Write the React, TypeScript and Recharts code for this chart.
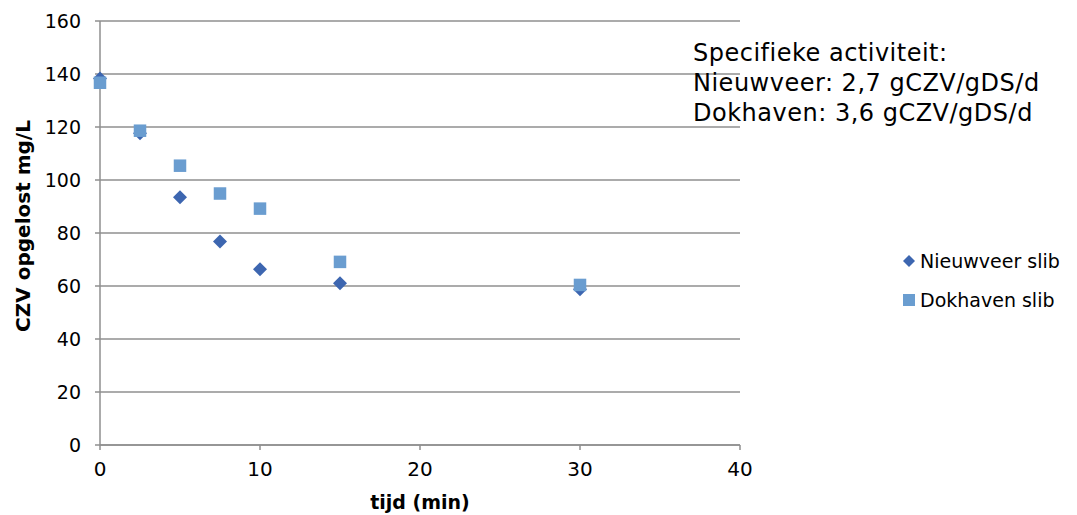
import React from 'react';
import { ScatterChart, Scatter, XAxis, YAxis, CartesianGrid, Legend } from 'recharts';

// tijd in minuten, CZV in mg/L
const nieuwveerTijd = [0, 2.5, 5, 7.5, 10, 15, 30];
const nieuwveerCzv = [138.3, 117.6, 93.5, 76.8, 66.3, 61.0, 58.8];
const dokhavenTijd = [0, 2.5, 5, 7.5, 10, 15, 30];
const dokhavenCzv = [136.7, 118.6, 105.4, 94.9, 89.2, 69.1, 60.4];

const xTicks = [0, 10, 20, 30, 40];
const yTicks = [0, 20, 40, 60, 80, 100, 120, 140, 160];

const seriesNames = ['Nieuwveer slib', 'Dokhaven slib'];
const noteLines = [
    'Specifieke activiteit:',
    'Nieuwveer: 2,7 gCZV/gDS/d',
    'Dokhaven: 3,6 gCZV/gDS/d',
];

const nieuwveer = nieuwveerTijd.map((t, i) => ({ tijd: t, czv: nieuwveerCzv[i] }));
const dokhaven = dokhavenTijd.map((t, i) => ({ tijd: t, czv: dokhavenCzv[i] }));

const DARK_BLUE = '#3d66b0';
const LIGHT_BLUE = '#6a9dd0';
const GRID = '#8f8f8f';
const FONT = '"DejaVu Sans", sans-serif';

const Diamond = (props: any) => {
    const { cx, cy } = props;
    const r = 7;
    return <path d={`M${cx},${cy - r}L${cx + r},${cy}L${cx},${cy + r}L${cx - r},${cy}Z`} fill={DARK_BLUE} />;
};

const Square = (props: any) => {
    const { cx, cy } = props;
    const s = 12.5;
    return <rect x={cx - s / 2} y={cy - s / 2} width={s} height={s} fill={LIGHT_BLUE} />;
};

const renderLegend = () => (
    <div style={{ fontFamily: FONT, fontSize: 19, color: '#000' }}>
        <div style={{ display: 'flex', alignItems: 'center', height: 39 }}>
            <svg width={17} height={14}>
                <path d="M6,1L12,7L6,13L0,7Z" fill={DARK_BLUE} />
            </svg>
            <span>{seriesNames[0]}</span>
        </div>
        <div style={{ display: 'flex', alignItems: 'center', height: 39 }}>
            <svg width={17} height={14}>
                <rect x={0} y={1} width={12} height={12} fill={LIGHT_BLUE} />
            </svg>
            <span>{seriesNames[1]}</span>
        </div>
    </div>
);

const yLabel = (props: any) => {
    const { viewBox } = props;
    const x = viewBox.x + 30;
    const y = viewBox.y + viewBox.height / 2 - 7;
    return (
        <text x={x} y={y} transform={`rotate(-90, ${x}, ${y})`} textAnchor="middle" fontFamily={FONT} fontWeight="bold" fontSize={20} fill="#000">
            CZV opgelost mg/L
        </text>
    );
};

const xLabel = (props: any) => {
    const { viewBox } = props;
    return (
        <text x={viewBox.x + viewBox.width / 2} y={509} textAnchor="middle" fontFamily={FONT} fontWeight="bold" fontSize={19} fill="#000">
            tijd (min)
        </text>
    );
};

export default function App() {
    return (
        <div style={{ position: 'absolute', left: 0, top: 0, width: 1077, height: 515, background: '#fff' }}>
            <ScatterChart width={1077} height={515} margin={{ top: 21, right: 337, left: 0, bottom: 0 }}>
                <CartesianGrid vertical={false} stroke={GRID} strokeWidth={1.5} />
                <XAxis
                    type="number"
                    dataKey="tijd"
                    domain={[0, 40]}
                    ticks={xTicks}
                    height={70}
                    tickSize={5}
                    tickMargin={12}
                    axisLine={{ stroke: GRID, strokeWidth: 1.5 }}
                    tickLine={{ stroke: GRID, strokeWidth: 1.5 }}
                    tick={{ fill: '#000', fontSize: 20, fontFamily: FONT }}
                    label={xLabel}
                />
                <YAxis
                    type="number"
                    dataKey="czv"
                    domain={[0, 160]}
                    ticks={yTicks}
                    width={100}
                    tickSize={5}
                    tickMargin={14}
                    axisLine={{ stroke: GRID, strokeWidth: 1.5 }}
                    tickLine={{ stroke: GRID, strokeWidth: 1.5 }}
                    tick={{ fill: '#000', fontSize: 19, fontFamily: FONT }}
                    label={yLabel}
                />
                <Legend
                    layout="horizontal"
                    verticalAlign="middle"
                    align="center"
                    content={renderLegend}
                    wrapperStyle={{ position: 'absolute', left: 903, top: 241, width: 175 }}
                />
                <Scatter name={seriesNames[0]} data={nieuwveer} shape={Diamond} isAnimationActive={false} />
                <Scatter name={seriesNames[1]} data={dokhaven} shape={Square} isAnimationActive={false} />
            </ScatterChart>
            <div
                style={{
                    position: 'absolute',
                    left: 693,
                    top: 38,
                    fontFamily: FONT,
                    fontSize: 24,
                    lineHeight: '30px',
                    letterSpacing: 0.5,
                    color: '#000',
                    whiteSpace: 'nowrap',
                }}
            >
                {noteLines.map((line) => (
                    <div key={line}>{line}</div>
                ))}
            </div>
        </div>
    );
}
